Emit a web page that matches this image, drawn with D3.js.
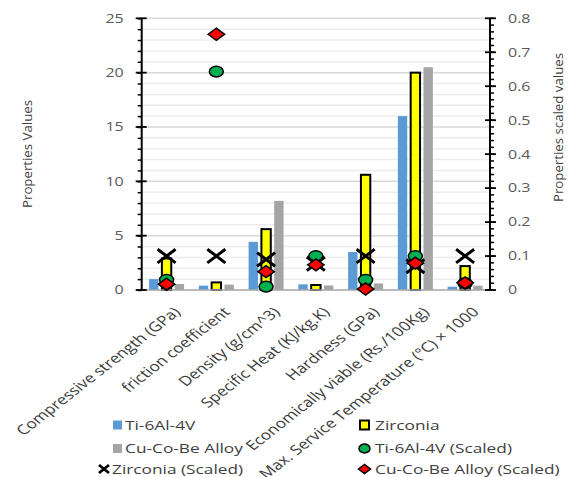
<!DOCTYPE html>
<html><head><meta charset="utf-8">
<script src="https://cdn.jsdelivr.net/npm/d3@7"></script>
<style>
html,body{margin:0;padding:0;background:#fff;}
svg text{font-family:"Open Sans","Noto Sans",sans-serif;}
</style></head>
<body><svg id="c" width="570" height="477"></svg>
<script>
const categories = ["Compressive strength (GPa)","friction coefficient","Density (g/cm^3)","Specific Heat (KJ/kg.K)","Hardness (GPa)","Economically viable (Rs./100Kg)","Max. Service Temperature (°C) × 1000"];
const tiValues = [1.0, 0.4, 4.43, 0.52, 3.5, 16, 0.3];
const zrValues = [2.9, 0.7, 5.6, 0.46, 10.6, 20, 2.2];
const cuValues = [0.55, 0.5, 8.2, 0.42, 0.6, 20.5, 0.4];
const tiScaled = [0.03, 0.643, 0.01, 0.1, 0.03, 0.1, 0.02];
const zrScaled = [0.1, 0.1, 0.09, 0.077, 0.1, 0.07, 0.1];
const cuScaled = [0.017, 0.753, 0.054, 0.074, 0.003, 0.079, 0.021];
const leftTicks = [0,5,10,15,20,25];
const rightTicks = [0,0.1,0.2,0.3,0.4,0.5,0.6,0.7,0.8];
const seriesNames = ["Ti-6Al-4V","Zirconia","Cu-Co-Be Alloy","Ti-6Al-4V (Scaled)","Zirconia (Scaled)","Cu-Co-Be Alloy (Scaled)"];

const SX = 1.28; // horizontal stretch of the original picture
const svg = d3.select("#c");
const L = 141.7, R = 490, T = 18.3, B = 290;
const x = d3.scaleBand().domain(categories).range([L,R]).padding(0);
const xs = d3.scaleBand().domain([0,1,2]).range([-17.5,17.5]).paddingInner(0.27).paddingOuter(0);
const yL = d3.scaleLinear().domain([0,25]).range([B,T]);
const yR = d3.scaleLinear().domain([0,0.8]).range([B,T]);

// gridlines
const g = svg.append("g");
g.selectAll("line.gl").data(d3.range(1,26)).join("line")
  .attr("x1",L).attr("x2",R).attr("y1",d=>yL(d)).attr("y2",d=>yL(d))
  .attr("stroke",d=>d%5===0?"#d9d9d9":"#ececec").attr("stroke-width",1.5);

// bars
const barData = [tiValues, zrValues, cuValues];
const barFill = ["#5B9BD5","#FFFF00","#A5A5A5"];
barData.forEach((vals,si)=>{
  svg.append("g").selectAll("rect").data(vals).join("rect")
    .attr("x",(d,i)=>x(categories[i])+x.bandwidth()/2+xs(si))
    .attr("width",xs.bandwidth())
    .attr("y",d=>yL(d)).attr("height",d=>B-yL(d))
    .attr("fill",barFill[si])
    .attr("stroke",si===1?"#000":"none").attr("stroke-width",2);
});

// bottom axis line
svg.append("line").attr("x1",L).attr("x2",R).attr("y1",B).attr("y2",B).attr("stroke","#a6a6a6").attr("stroke-width",1.5);

// left axis
const la = svg.append("g").attr("transform",`translate(${L},0)`);
la.call(d3.axisLeft(yL).tickValues(d3.range(0,26)).tickSize(4).tickFormat(""));
la.call(g2=>g2.select(".domain").remove());
la.selectAll("line").attr("stroke","#000").attr("stroke-width",1.5);
la.append("line").attr("y1",T).attr("y2",B).attr("stroke","#000").attr("stroke-width",2);
la.selectAll("line.mj").data(leftTicks).join("line").attr("class","mj")
  .attr("x1",-6).attr("x2",5).attr("y1",d=>yL(d)).attr("y2",d=>yL(d)).attr("stroke","#000").attr("stroke-width",1.8);
la.selectAll("text.tl").data(leftTicks).join("text").attr("class","tl")
  .attr("transform",d=>`translate(-18,${yL(d)}) scale(${SX},1)`).attr("dy","0.35em").attr("text-anchor","end")
  .attr("fill","#595959").attr("font-size",12.5).text(d=>d);

// right axis
const ra = svg.append("g").attr("transform",`translate(${R},0)`);
ra.selectAll("line.mn").data(d3.range(0,41)).join("line").attr("class","mn")
  .attr("x1",0).attr("x2",4).attr("y1",d=>yR(d*0.02)).attr("y2",d=>yR(d*0.02)).attr("stroke","#000").attr("stroke-width",1.5);
ra.append("line").attr("y1",T).attr("y2",B).attr("stroke","#000").attr("stroke-width",2);
ra.selectAll("line.mj").data(rightTicks).join("line").attr("class","mj")
  .attr("x1",-5).attr("x2",6).attr("y1",d=>yR(d)).attr("y2",d=>yR(d)).attr("stroke","#000").attr("stroke-width",1.8);
ra.selectAll("text.tr").data(rightTicks).join("text").attr("class","tr")
  .attr("transform",d=>`translate(18,${yR(d)}) scale(${SX},1)`).attr("dy","0.35em").attr("text-anchor","start")
  .attr("fill","#595959").attr("font-size",12.5).text(d=>d3.format("")(d));

// markers
const cx = i => x(categories[i]) + x.bandwidth()/2;
svg.append("g").selectAll("ellipse").data(tiScaled).join("ellipse")
  .attr("cx",(d,i)=>cx(i)).attr("cy",d=>yR(d)).attr("rx",7).attr("ry",5.4)
  .attr("fill","#00B050").attr("stroke","#000").attr("stroke-width",1.5);
svg.append("g").selectAll("path").data(zrScaled).join("path")
  .attr("d",(d,i)=>{const X=cx(i),Y=yR(d);return `M${X-9},${Y-6.8}L${X+9},${Y+6.8}M${X-9},${Y+6.8}L${X+9},${Y-6.8}`;})
  .attr("stroke","#000").attr("stroke-width",3).attr("fill","none");
svg.append("g").selectAll("path").data(cuScaled).join("path")
  .attr("d",(d,i)=>{const X=cx(i),Y=yR(d);return `M${X-8.2},${Y}L${X},${Y-6}L${X+8.2},${Y}L${X},${Y+6}Z`;})
  .attr("fill","#FF0000").attr("stroke","#000").attr("stroke-width",1.5);

// x labels
svg.append("g").selectAll("text").data(categories).join("text")
  .attr("transform",(d,i)=>`translate(${cx(i)+6},306) scale(${SX},1) rotate(-45)`)
  .attr("dy","0.72em").attr("text-anchor","end").attr("fill","#3a3a3a").attr("font-size",13.5).text(d=>d);

// axis titles
svg.append("text").attr("transform","translate(32,154) rotate(-90)").attr("text-anchor","middle")
  .attr("font-size",13).attr("fill","#404040").attr("textLength",108).attr("lengthAdjust","spacingAndGlyphs").text("Properties Values");
svg.append("text").attr("transform","translate(563,127.5) rotate(-90)").attr("text-anchor","middle")
  .attr("font-size",13).attr("fill","#404040").attr("textLength",149).attr("lengthAdjust","spacingAndGlyphs").text("Properties scaled values");

// legend
const lg = svg.append("g");
const rows = [425, 448.5, 469];
const leg = [
  {n:0, mx:117.5, tx:125, r:0, type:"rect", fill:"#5B9BD5", stroke:"none"},
  {n:1, mx:364.5, tx:375, r:0, type:"rect", fill:"#FFFF00", stroke:"#000"},
  {n:2, mx:117.5, tx:125, r:1, type:"rect", fill:"#A5A5A5", stroke:"none"},
  {n:3, mx:364.5, tx:375, r:1, type:"circle", fill:"#00B050", stroke:"#000"},
  {n:4, mx:104, tx:112, r:2, type:"x"},
  {n:5, mx:364.5, tx:375, r:2, type:"diamond", fill:"#FF0000", stroke:"#000"}
];
leg.forEach(e=>{
  const Y = rows[e.r];
  if(e.type==="rect"){
    lg.append("rect").attr("x",e.mx-4.5).attr("y",Y-4.5).attr("width",9).attr("height",9)
      .attr("fill",e.fill).attr("stroke",e.stroke).attr("stroke-width",2);
  } else if(e.type==="circle"){
    lg.append("ellipse").attr("cx",e.mx).attr("cy",Y).attr("rx",5.5).attr("ry",4.5).attr("fill",e.fill).attr("stroke",e.stroke).attr("stroke-width",1.5);
  } else if(e.type==="diamond"){
    lg.append("path").attr("d",`M${e.mx-6},${Y}L${e.mx},${Y-4.5}L${e.mx+6},${Y}L${e.mx},${Y+4.5}Z`).attr("fill",e.fill).attr("stroke",e.stroke).attr("stroke-width",1.5);
  } else {
    lg.append("path").attr("d",`M${e.mx-5},${Y-4}L${e.mx+5},${Y+4}M${e.mx-5},${Y+4}L${e.mx+5},${Y-4}`).attr("stroke","#000").attr("stroke-width",2.8);
  }
  lg.append("text").attr("transform",`translate(${e.tx},${Y}) scale(${SX},1)`).attr("dy","0.36em").attr("font-size",13.5).attr("fill","#404040").text(seriesNames[e.n]);
});
</script></body></html>
